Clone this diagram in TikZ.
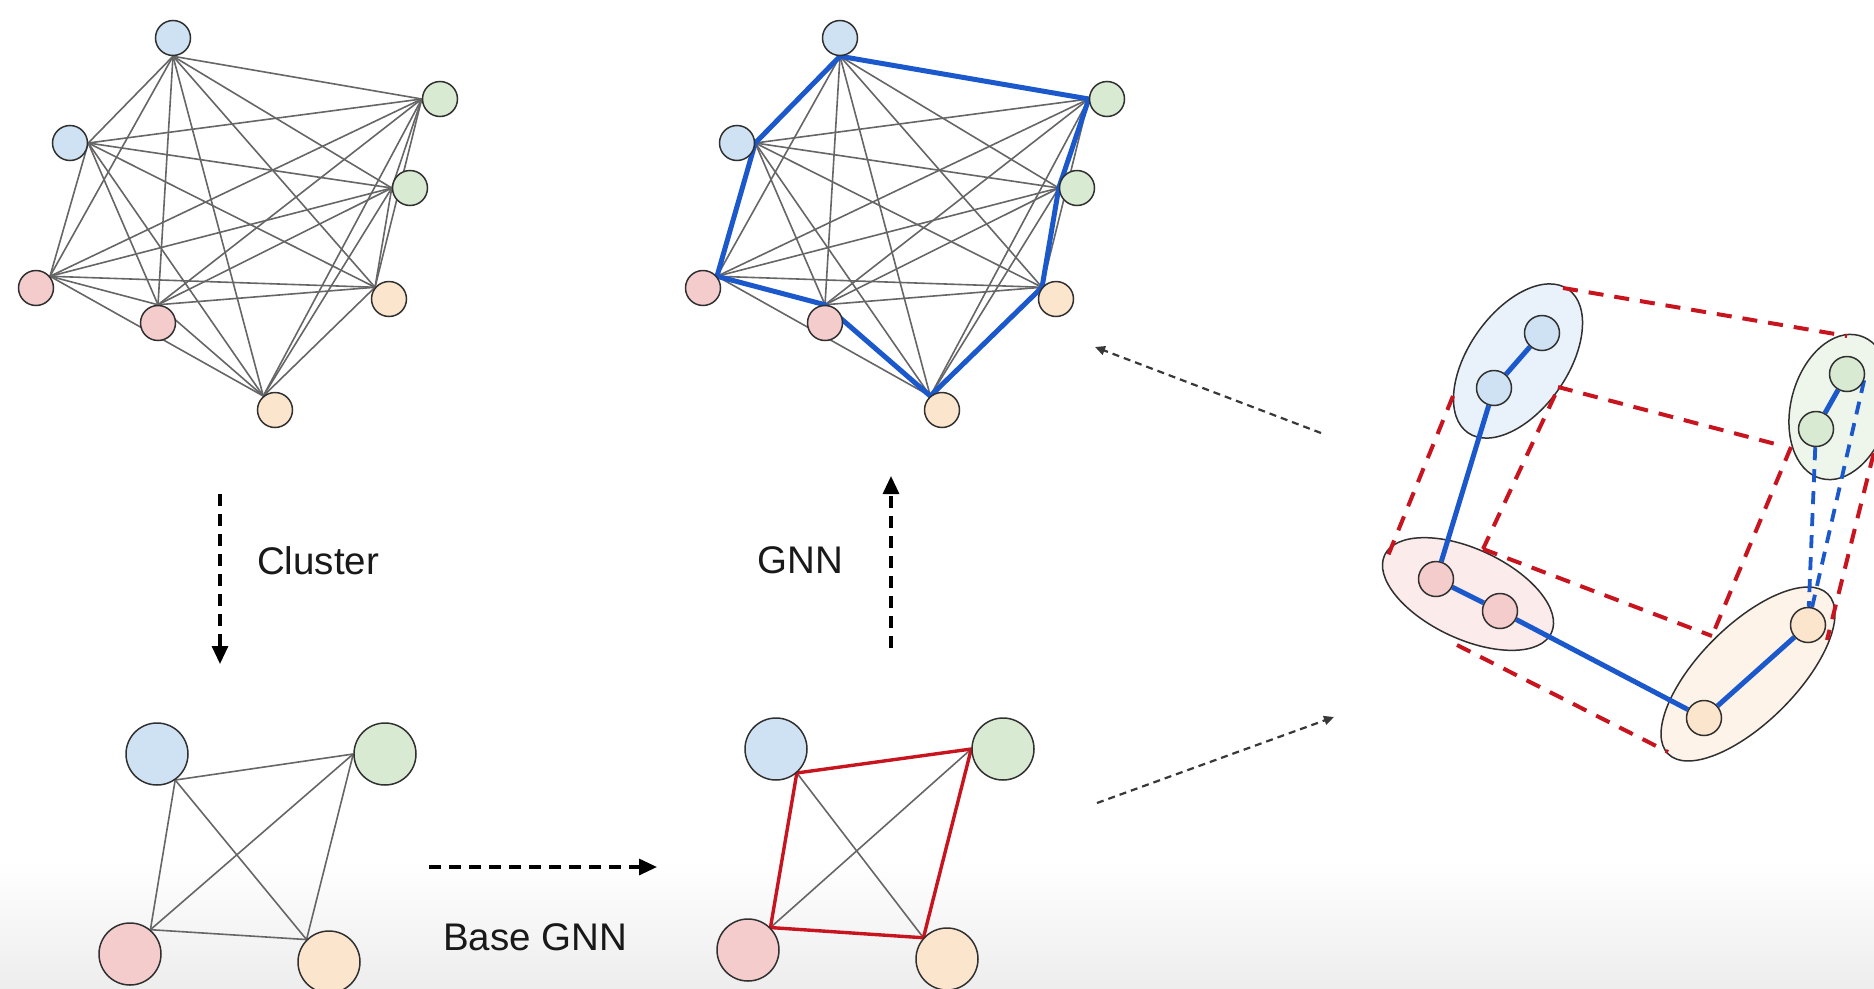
\documentclass[tikz,border=0pt]{standalone}
\usepackage{fontspec}
\setmainfont{Liberation Sans}
\usetikzlibrary{arrows.meta,shapes.geometric}
\definecolor{nblue}{HTML}{CFE2F3}
\definecolor{ngreen}{HTML}{D9EAD3}
\definecolor{nred}{HTML}{F4CCCC}
\definecolor{norange}{HTML}{FCE5CD}
\definecolor{outl}{HTML}{303030}
\definecolor{gedgec}{HTML}{666666}
\definecolor{eblue}{HTML}{1A58CC}
\definecolor{ered}{HTML}{C8141E}
\definecolor{thinc}{HTML}{383838}
\pgfdeclarelayer{bgfill}
\pgfdeclarelayer{ell}
\pgfdeclarelayer{edges}
\pgfsetlayers{bgfill,ell,edges,main}
\begin{document}
\begin{tikzpicture}[x=1pt,y=-1pt,
  nd/.style={circle, draw=outl, line width=1.5pt, minimum size=35pt, inner sep=0pt},
  bignd/.style={nd, minimum size=62pt},
  ell/.style={ellipse, draw=outl, line width=1.5pt, inner sep=0pt},
  gedge/.style={draw=gedgec, line width=1.6pt},
  bedge/.style={draw=eblue, line width=5pt},
  redge/.style={draw=ered, line width=3.4pt},
  rdash/.style={draw=ered, line width=4pt, dash pattern=on 15pt off 11pt},
  bdash/.style={draw=eblue, line width=3.8pt, dash pattern=on 13pt off 9pt},
  flow/.style={draw=black, line width=3.2pt, dash pattern=on 12pt off 8pt, -{Triangle[length=18pt,width=16pt]}},
  thinflow/.style={draw=thinc, line width=2.2pt, dash pattern=on 7pt off 5pt, -{Triangle[length=10pt,width=9pt]}},
  lbl/.style={font=\fontsize{38.5}{46}\selectfont, text=black!90, inner sep=0pt}
]
\useasboundingbox (0,0) rectangle (1874,988);
\begin{pgfonlayer}{bgfill}
  \fill[white] (0,0) rectangle (1874,988);
  \shade[top color=white, bottom color=black!7] (0,860) rectangle (1874,988);
\end{pgfonlayer}

% ---------- top-left full graph ----------
\node[nd, fill=nblue]   (a1) at (173,38) {};
\node[nd, fill=nblue]   (a2) at (70,143) {};
\node[nd, fill=ngreen]  (a3) at (440,99) {};
\node[nd, fill=ngreen]  (a4) at (410,188) {};
\node[nd, fill=nred]    (a5) at (36,288) {};
\node[nd, fill=nred]    (a6) at (158,323) {};
\node[nd, fill=norange] (a7) at (389,299) {};
\node[nd, fill=norange] (a8) at (275,410) {};
\coordinate (pa1) at (a1.270);
\coordinate (pa2) at (a2.0);
\coordinate (pa3) at (a3.180);
\coordinate (pa4) at (a4.180);
\coordinate (pa5) at (a5.40);
\coordinate (pa6) at (a6.90);
\coordinate (pa7) at (a7.140);
\coordinate (pa8) at (a8.130);

% ---------- top-middle graph ----------
\node[nd, fill=nblue]   (b1) at (840,38) {};
\node[nd, fill=nblue]   (b2) at (737,143) {};
\node[nd, fill=ngreen]  (b3) at (1107,99) {};
\node[nd, fill=ngreen]  (b4) at (1077,188) {};
\node[nd, fill=nred]    (b5) at (703,288) {};
\node[nd, fill=nred]    (b6) at (825,323) {};
\node[nd, fill=norange] (b7) at (1056,299) {};
\node[nd, fill=norange] (b8) at (942,410) {};
\coordinate (pb1) at (b1.270);
\coordinate (pb2) at (b2.0);
\coordinate (pb3) at (b3.180);
\coordinate (pb4) at (b4.180);
\coordinate (pb5) at (b5.40);
\coordinate (pb6) at (b6.90);
\coordinate (pb7) at (b7.140);
\coordinate (pb8) at (b8.130);

\begin{pgfonlayer}{edges}
\foreach \i in {1,...,7}{
  \pgfmathtruncatemacro\ni{\i+1}
  \foreach \j in {\ni,...,8}{
    \draw[gedge] (pa\i) -- (pa\j);
    \draw[gedge] (pb\i) -- (pb\j);
  }
}
\draw[bedge, line join=round] (pb1) -- (pb2) -- (pb5) -- (pb6) -- (pb8) -- (pb7) -- (pb4) -- (pb3) -- cycle;
\end{pgfonlayer}

% ---------- bottom-left clustered graph ----------
\node[bignd, fill=nblue]   (c1) at (157,754) {};
\node[bignd, fill=ngreen]  (c2) at (385,754) {};
\node[bignd, fill=nred]    (c3) at (130,954) {};
\node[bignd, fill=norange] (c4) at (329,962) {};
\coordinate (pc1) at (c1.-55);
\coordinate (pc2) at (c2.180);
\coordinate (pc3) at (c3.50);
\coordinate (pc4) at (c4.135);

% ---------- bottom-middle graph ----------
\node[bignd, fill=nblue]   (d1) at (776,749) {};
\node[bignd, fill=ngreen]  (d2) at (1003,749) {};
\node[bignd, fill=nred]    (d3) at (748,950) {};
\node[bignd, fill=norange] (d4) at (947,959) {};
\coordinate (pd1) at (d1.-49);
\coordinate (pd2) at (d2.180);
\coordinate (pd3) at (d3.45);
\coordinate (pd4) at (d4.138);

\begin{pgfonlayer}{edges}
\draw[gedge] (pc1) -- (pc2);
\draw[gedge] (pc1) -- (pc3);
\draw[gedge] (pc1) -- (pc4);
\draw[gedge] (pc2) -- (pc3);
\draw[gedge] (pc2) -- (pc4);
\draw[gedge] (pc3) -- (pc4);
\draw[gedge] (pd1) -- (pd4);
\draw[gedge] (pd2) -- (pd3);
\draw[redge, line join=round] (pd1) -- (pd2) -- (pd4) -- (pd3) -- cycle;
\end{pgfonlayer}

% ---------- labels and flow arrows ----------
\node[lbl, anchor=base west] (tcl) at (257,574) {Cluster};
\node[lbl, anchor=base east] (tgnn) at (843,573) {GNN};
\node[lbl, anchor=base west] (tbase) at (443,950) {Base GNN};

\coordinate (cl1) at (220,494);
\coordinate (cl2) at (220,664);
\coordinate (gn1) at (891,648);
\coordinate (gn2) at (891,476);
\coordinate (bs1) at (429,867);
\coordinate (bs2) at (657,867);
\coordinate (th1) at (1321,433);
\coordinate (th2) at (1095,347);
\coordinate (tl1) at (1097,803);
\coordinate (tl2) at (1334,717);
\draw[flow] (cl1) -- (cl2);
\draw[flow] (gn1) -- (gn2);
\draw[flow] (bs1) -- (bs2);
\draw[thinflow] (th1) -- (th2);
\draw[thinflow] (tl1) -- (tl2);

% ---------- right: clusters ----------
\begin{pgfonlayer}{ell}
\node[ell, fill=nblue!45!white, minimum width=175pt, minimum height=99pt, rotate=55] (eb) at (1518,361) {};
\node[ell, fill=nred!40!white, minimum width=184pt, minimum height=90pt, rotate=-25] (er) at (1468,594) {};
\node[ell, fill=norange!45!white, minimum width=226pt, minimum height=97pt, rotate=45] (eo) at (1748,674) {};
\node[ell, fill=ngreen!45!white, minimum width=148pt, minimum height=98pt, rotate=75] (eg) at (1840,407) {};
\end{pgfonlayer}

\node[nd, fill=nblue]   (s1) at (1542,333) {};
\node[nd, fill=nblue]   (s2) at (1494,388) {};
\node[nd, fill=ngreen]  (g1) at (1847,374) {};
\node[nd, fill=ngreen]  (g2) at (1816,429) {};
\node[nd, fill=nred]    (r1) at (1436,579) {};
\node[nd, fill=nred]    (r2) at (1500,611) {};
\node[nd, fill=norange] (o1) at (1808,625) {};
\node[nd, fill=norange] (o2) at (1704,718) {};

\coordinate (rA1) at (1563,288);
\coordinate (rA2) at (1847,336);
\coordinate (rB1) at (1558,387);
\coordinate (rB2) at (1783,446);
\coordinate (rC1) at (1453,396);
\coordinate (rC2) at (1385,563);
\coordinate (rD1) at (1555,395);
\coordinate (rD2) at (1483,549);
\coordinate (rE2) at (1712,636);
\coordinate (rF1) at (1457,645);
\coordinate (rF2) at (1668,752);
\coordinate (rG1) at (1791,447);
\coordinate (rH1) at (1880,428);
\coordinate (rH2) at (1827,640);

\begin{pgfonlayer}{edges}
\draw[rdash] (rA1) -- (rA2);
\draw[rdash] (rB1) -- (rB2);
\draw[rdash] (rC1) -- (rC2);
\draw[rdash] (rD1) -- (rD2);
\draw[rdash] (rD2) -- (rE2);
\draw[rdash] (rG1) -- (rE2);
\draw[rdash] (rF1) -- (rF2);
\draw[rdash] (rH1) -- (rH2);
\draw[bedge] (s1) -- (s2);
\draw[bedge] (s2) -- (r1);
\draw[bedge] (r1) -- (r2);
\draw[bedge] (r2) -- (o2);
\draw[bedge] (o2) -- (o1);
\draw[bedge] (g1) -- (g2);
\draw[bdash] (g2) -- (o1);
\draw[bdash] (g1.-20) -- (o1);
\end{pgfonlayer}
\end{tikzpicture}
\end{document}
